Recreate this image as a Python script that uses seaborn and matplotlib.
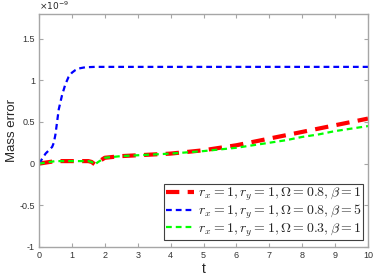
import numpy as np
import pandas as pd
import matplotlib
matplotlib.use("Agg")
import matplotlib.pyplot as plt
import seaborn as sns

# Data (values in units of 1e-9)
t_red = [0, 0.5, 1.0, 1.5, 1.6, 1.7, 1.8, 2.0, 2.5, 3.0, 3.5, 4.0, 4.5, 5.0, 5.5, 6.0, 6.5, 7.0, 7.5, 8.0, 8.5, 9.0, 9.5, 10.0]
y_red = [0, 0.03, 0.03, 0.03, 0.02, -0.01, 0.02, 0.07, 0.09, 0.10, 0.11, 0.12, 0.14, 0.16, 0.19, 0.22, 0.26, 0.30, 0.34, 0.38, 0.42, 0.46, 0.50, 0.54]

t_blue = [0, 0.1, 0.2, 0.3, 0.4, 0.45, 0.5, 0.55, 0.6, 0.7, 0.8, 0.9, 1.0, 1.1, 1.2, 1.4, 1.7, 2.0, 3.0, 5.0, 7.0, 10.0]
y_blue = [0, 0.06, 0.12, 0.16, 0.20, 0.25, 0.35, 0.50, 0.65, 0.82, 0.95, 1.04, 1.09, 1.12, 1.14, 1.155, 1.16, 1.16, 1.16, 1.16, 1.16, 1.16]

t_green = [0, 0.5, 1.0, 1.5, 1.6, 1.7, 1.8, 2.0, 2.5, 3.0, 3.5, 4.0, 4.5, 5.0, 5.5, 6.0, 6.5, 7.0, 7.5, 8.0, 8.5, 9.0, 9.5, 10.0]
y_green = [0, 0.03, 0.03, 0.03, 0.02, -0.01, 0.02, 0.07, 0.09, 0.10, 0.11, 0.12, 0.135, 0.15, 0.17, 0.19, 0.22, 0.25, 0.28, 0.32, 0.35, 0.39, 0.42, 0.45]

labels = [r"$r_x=1,r_y=1,\Omega=0.8,\beta=1$",
          r"$r_x=1,r_y=1,\Omega=0.8,\beta=5$",
          r"$r_x=1,r_y=1,\Omega=0.3,\beta=1$"]

xticks = list(range(0, 11))
yticks = [-1, -0.5, 0, 0.5, 1, 1.5]
ytick_labels = ["-1", "-0.5", "0", "0.5", "1", "1.5"]

sns.set_style("white")
plt.rcParams["font.family"] = ["Liberation Sans", "DejaVu Sans"]
plt.rcParams["mathtext.fontset"] = "cm"

fig = plt.figure(figsize=(3.74, 2.80), dpi=100)
ax = fig.add_axes([39/374, 1 - 247/280, (368-39)/374, (247-13.5)/280])

df_r = pd.DataFrame({"t": t_red, "e": y_red})
df_b = pd.DataFrame({"t": t_blue, "e": y_blue})
df_g = pd.DataFrame({"t": t_green, "e": y_green})

sns.lineplot(data=df_r, x="t", y="e", ax=ax, color="red", lw=3.0, label=labels[0])
sns.lineplot(data=df_b, x="t", y="e", ax=ax, color="blue", lw=1.6, label=labels[1])
sns.lineplot(data=df_g, x="t", y="e", ax=ax, color="#00ff00", lw=1.6, label=labels[2])
lines = ax.get_lines()
lines[0].set_dashes([3.2, 2.0])
lines[1].set_dashes([2.6, 1.8])
lines[2].set_dashes([2.6, 1.8])

ax.set_xlim(0, 10)
ax.set_ylim(-1, 1.8)
ax.set_xticks(xticks)
ax.set_xticklabels([str(v) for v in xticks])
ax.set_yticks(yticks)
ax.set_yticklabels(ytick_labels)

spine_col = "#a6a6a6"
for s in ax.spines.values():
    s.set_visible(True)
    s.set_color(spine_col)
    s.set_linewidth(1.0)
ax.tick_params(direction="in", length=3, width=0.8, color=spine_col,
               labelsize=6.5, labelcolor="#333333", top=True, right=True,
               bottom=True, left=True, pad=3)

ax.set_xlabel("t", fontsize=10, color="#262626", labelpad=1)
ax.set_ylabel("Mass error", fontsize=9.5, color="#262626", labelpad=1)
ax.text(0.0, 1.005, r"$\times10^{-9}$", transform=ax.transAxes, fontsize=6.5,
        color="#262626", ha="left", va="bottom", family="DejaVu Sans")
ax.texts[-1].set_math_fontfamily("dejavusans")

leg = ax.legend(loc="lower right", bbox_to_anchor=(363/374, 1 - 240/280),
                bbox_transform=fig.transFigure, fontsize=10, frameon=True,
                fancybox=False, edgecolor="#404040", framealpha=1,
                borderpad=0.1, labelspacing=0.0, handlelength=2.0,
                handletextpad=0.3, borderaxespad=0)
leg.get_frame().set_linewidth(0.8)

fig.savefig("out.png", dpi=100)
